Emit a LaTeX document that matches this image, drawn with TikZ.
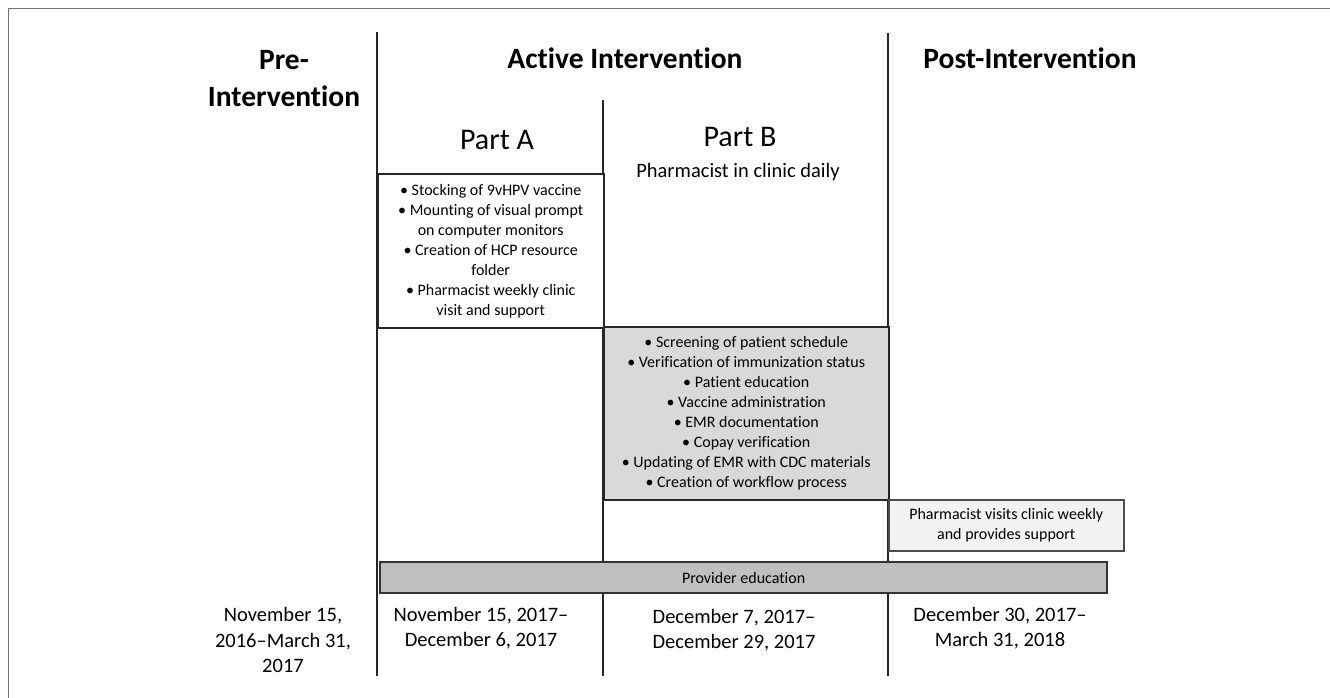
\documentclass[tikz,border=0pt]{standalone}
\usepackage{fontspec}
\setmainfont[Ligatures=NoCommon]{Carlito}
\begin{document}
\begin{tikzpicture}[x=1pt,y=-1pt,
  frameline/.style={draw=black!55, line width=1pt},
  divider/.style={draw=black!85, line width=1.3pt},
  listbox/.style={draw=black!85, line width=1.5pt, align=center, inner sep=0pt,
    font=\fontsize{16}{20}\selectfont, anchor=north west},
  head/.style={font=\bfseries\fontsize{29.5}{37}\selectfont, align=center},
  parthead/.style={font=\fontsize{30}{34}\selectfont},
  datetext/.style={font=\fontsize{20.5}{25.5}\selectfont, align=center}]
\useasboundingbox (0,0) rectangle (1330,698);
% outer frame
\draw[frameline] (8,698) -- (8,9) -- (1330,9);
% column dividers
\coordinate (d1t) at (377,32);  \coordinate (d1b) at (377,676);
\coordinate (d2t) at (603,100); \coordinate (d2b) at (603,676);
\coordinate (d3t) at (888,33);  \coordinate (d3b) at (888,676);
\draw[divider] (d1t) -- (d1b);
\draw[divider] (d2t) -- (d2b);
\draw[divider] (d3t) -- (d3b);
% headings
\node[head] (pre) at (284,79) {Pre-\\Intervention};
\node[head] (active) at (625,58) {Active Intervention};
\node[head] (post) at (1030,58) {Post-Intervention};
\node[parthead] (partA) at (497,140) {Part A};
\node[parthead] (partB) at (740,137) {Part B};
\node[font=\fontsize{20.5}{24}\selectfont] (daily) at (738,172) {Pharmacist in clinic daily};
% boxes
\node[listbox, fill=white, minimum width=226, minimum height=154] (boxA) at (377,173)
  {• Stocking of 9vHPV vaccine\\
   • Mounting of visual prompt\\
   on computer monitors\\
   • Creation of HCP resource\\
   folder\\
   • Pharmacist weekly clinic\\
   visit and support};
\node[listbox, fill=black!15, minimum width=285, minimum height=173] (boxB) at (603,326)
  {• Screening of patient schedule\\
   • Verification of immunization status\\
   • Patient education\\
   • Vaccine administration\\
   • EMR documentation\\
   • Copay verification\\
   • Updating of EMR with CDC materials\\
   • Creation of workflow process};
\node[listbox, draw=black!70, fill=black!5, minimum width=235, minimum height=51] (boxPost) at (888,499)
  {Pharmacist visits clinic weekly\\and provides support};
\node[listbox, draw=black!80, line width=2.2pt, fill=black!25, minimum width=727, minimum height=31] (prov) at (379,561)
  {Provider education};
% dates
\node[datetext] (datePre) at (283,640) {November 15,\\2016–March 31,\\2017};
\node[datetext] (dateA) at (481,628) {November 15, 2017–\\December 6, 2017};
\node[datetext] (dateB) at (734,630) {December 7, 2017–\\December 29, 2017};
\node[datetext] (datePost) at (1000,628) {December 30, 2017–\\March 31, 2018};
\end{tikzpicture}
\end{document}
